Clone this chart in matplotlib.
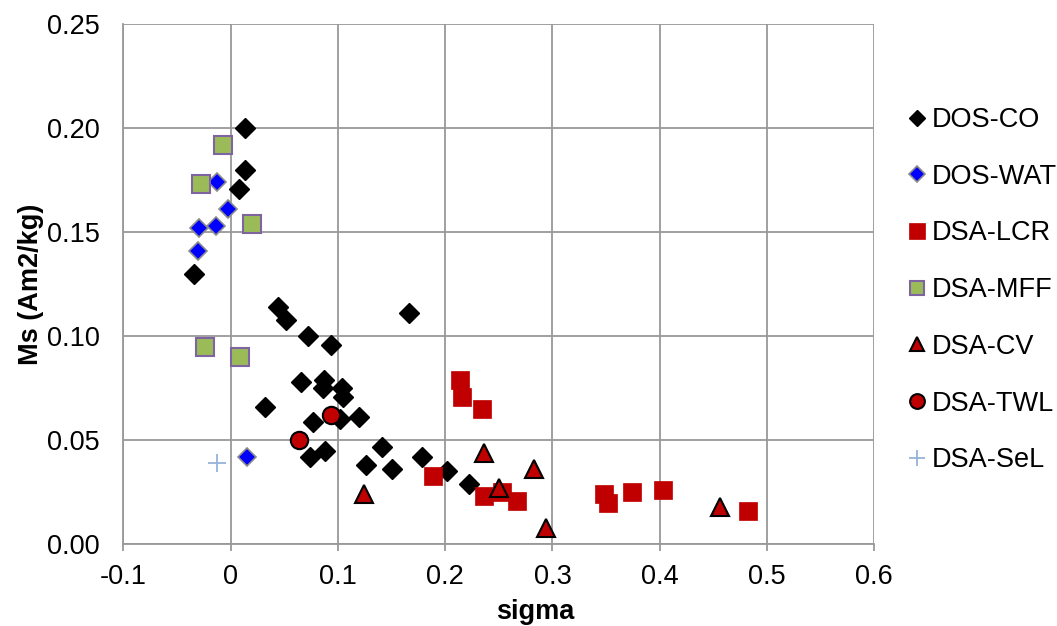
import matplotlib
matplotlib.use('Agg')
import matplotlib.pyplot as plt
from matplotlib.ticker import MultipleLocator, FuncFormatter

plt.rcParams['font.family'] = ['Liberation Sans', 'DejaVu Sans']

# sigma / Ms values per sample group
dos_co_x = [0.013, 0.013, 0.008, -0.034, 0.044, 0.052, 0.166, 0.072, 0.094, 0.066, 0.087, 0.086, 0.104,
            0.105, 0.032, 0.102, 0.120, 0.077, 0.088, 0.074, 0.141, 0.126, 0.150, 0.178, 0.202, 0.222]
dos_co_y = [0.200, 0.180, 0.171, 0.130, 0.114, 0.108, 0.111, 0.100, 0.096, 0.078, 0.079, 0.075, 0.075,
            0.071, 0.066, 0.060, 0.061, 0.059, 0.045, 0.042, 0.047, 0.038, 0.036, 0.042, 0.035, 0.029]

dos_wat_x = [-0.013, -0.002, -0.029, -0.014, -0.030, 0.015]
dos_wat_y = [0.174, 0.161, 0.152, 0.153, 0.141, 0.042]

dsa_lcr_x = [0.214, 0.216, 0.234, 0.189, 0.236, 0.253, 0.267, 0.348, 0.352, 0.374, 0.403, 0.482]
dsa_lcr_y = [0.079, 0.071, 0.065, 0.033, 0.023, 0.025, 0.021, 0.024, 0.020, 0.025, 0.026, 0.016]

dsa_mff_x = [-0.007, -0.028, 0.020, -0.024, 0.009]
dsa_mff_y = [0.192, 0.173, 0.154, 0.095, 0.090]

dsa_cv_x = [0.124, 0.236, 0.250, 0.283, 0.294, 0.456]
dsa_cv_y = [0.024, 0.044, 0.027, 0.036, 0.008, 0.018]

dsa_twl_x = [0.094, 0.064]
dsa_twl_y = [0.062, 0.050]

dsa_sel_x = [-0.013]
dsa_sel_y = [0.039]

grid_col = '#999999'
red = '#C00000'
fs = 19.5

fig = plt.figure(figsize=(10.57, 6.26), dpi=100)
ax = fig.add_axes([123.3 / 1057, 1 - 544.3 / 626, (874.3 - 123.3) / 1057, (544.3 - 24.3) / 626])

ax.plot(dos_co_x, dos_co_y, ls='none', marker='D', ms=10, mfc='black', mec='black', label='DOS-CO')
ax.plot(dos_wat_x, dos_wat_y, ls='none', marker='D', ms=9.5, mfc='#0000FF', mec='#8C8C8C', mew=1.2,
        label='DOS-WAT')
ax.plot(dsa_lcr_x, dsa_lcr_y, ls='none', marker='s', ms=13.3, mfc=red, mec=red, mew=0.5, label='DSA-LCR')
ax.plot(dsa_mff_x, dsa_mff_y, ls='none', marker='s', ms=12.5, mfc='#9BBB59', mec='#8064A2', mew=1.5,
        label='DSA-MFF')
ax.plot(dsa_cv_x, dsa_cv_y, ls='none', marker='^', ms=12.5, mfc=red, mec='black', mew=1.5, label='DSA-CV')
ax.plot(dsa_twl_x, dsa_twl_y, ls='none', marker='o', ms=12.5, mfc=red, mec='black', mew=1.5, label='DSA-TWL')
ax.plot(dsa_sel_x, dsa_sel_y, ls='none', marker='+', ms=13, mec='#95B3D7', mew=1.3, label='DSA-SeL')

ax.set_xlim(-0.1, 0.6)
ax.set_ylim(0, 0.25)
ax.xaxis.set_major_locator(MultipleLocator(0.1))
ax.yaxis.set_major_locator(MultipleLocator(0.05))
ax.xaxis.set_major_formatter(FuncFormatter(lambda v, p: f'{round(v, 2) + 0:g}'))
ax.yaxis.set_major_formatter(FuncFormatter(lambda v, p: f'{v:.2f}'))

ax.grid(True, color=grid_col, lw=1.3, zorder=0)
ax.set_axisbelow(True)
for s in ax.spines.values():
    s.set_visible(False)
for side in ['bottom', 'left']:
    ax.spines[side].set_visible(True)
    ax.spines[side].set_color(grid_col)
    ax.spines[side].set_linewidth(1.3)

ax.tick_params(axis='x', length=5, width=1.3, color=grid_col, labelsize=fs, pad=9)
ax.tick_params(axis='y', length=0, labelsize=fs, pad=17)

ax.set_xlabel('sigma', fontsize=fs, fontweight='bold', va='center')
ax.xaxis.set_label_coords((535 - 123.3) / 751, (544.3 - 612) / 520)
ax.set_ylabel('Ms (Am2/kg)', fontsize=fs, fontweight='bold', va='center')
ax.yaxis.set_label_coords((31 - 123.3) / 751, 0.5)

leg = ax.legend(loc='upper left', bbox_to_anchor=(906 / 1057, 1 - 107 / 626), bbox_transform=fig.transFigure,
                frameon=False, fontsize=fs, handlelength=0.8, handletextpad=0.15, labelspacing=1.135,
                markerscale=0.85, borderpad=0, borderaxespad=0)

fig.savefig('out.png', dpi=100)
